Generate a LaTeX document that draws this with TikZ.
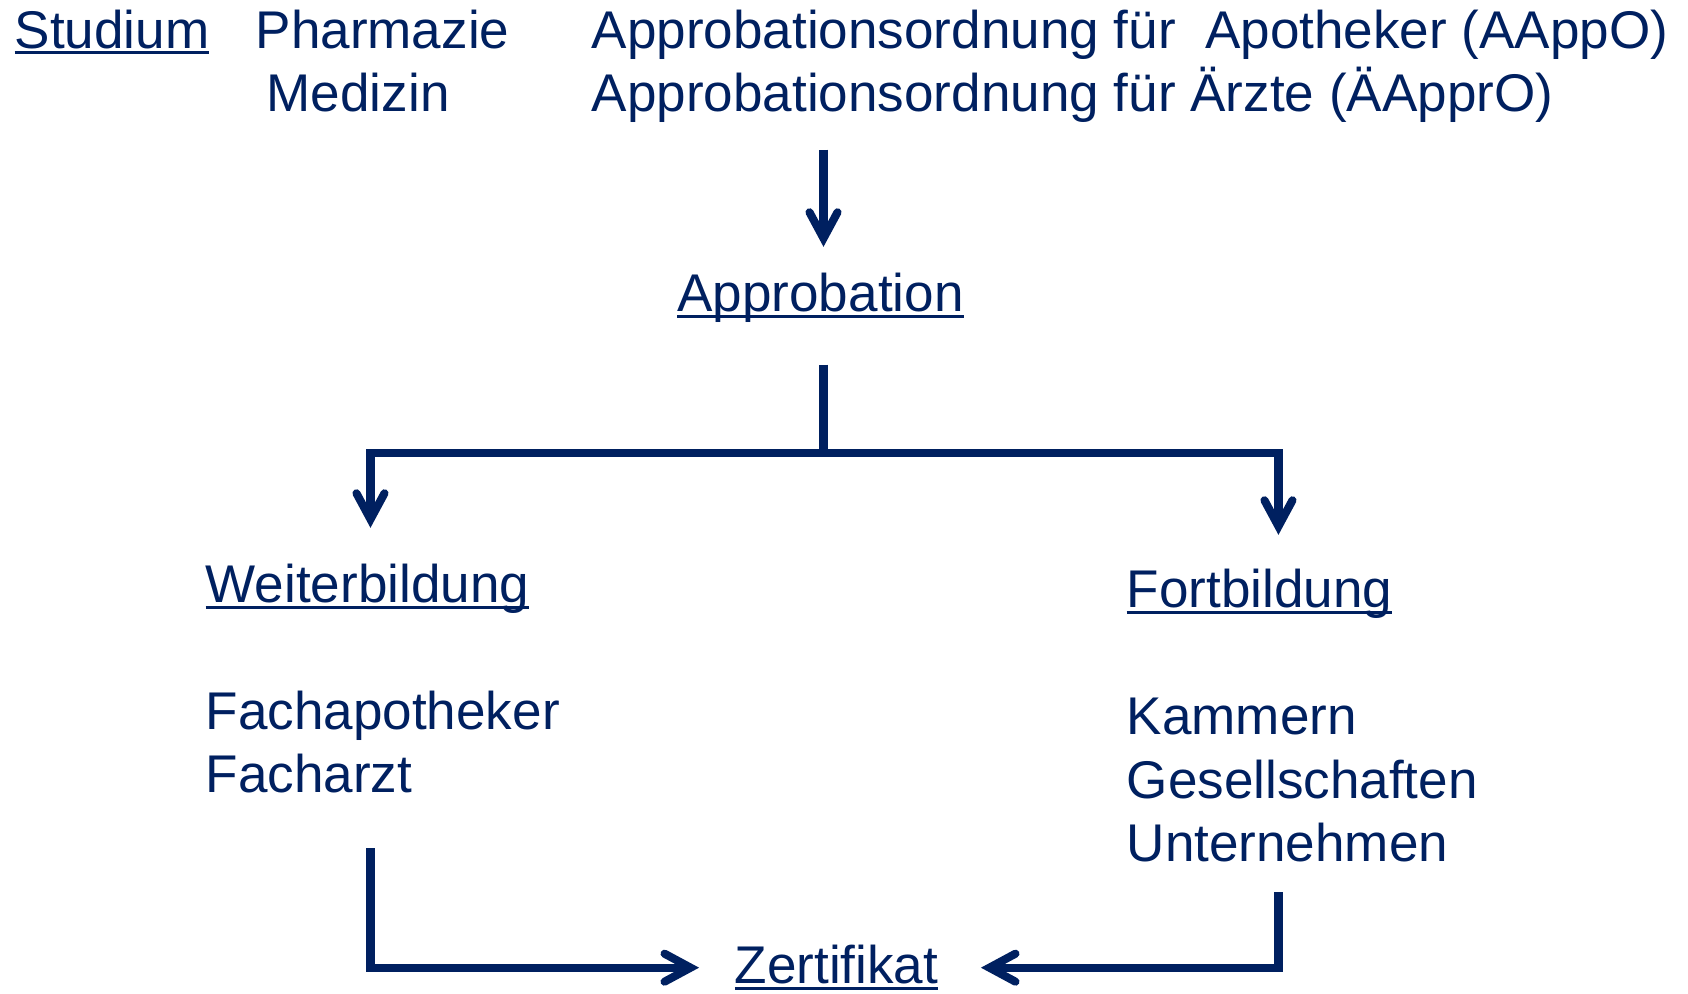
\documentclass[tikz,border=0pt]{standalone}
\usepackage{fontspec}
\setmainfont{Liberation Sans}
\usetikzlibrary{arrows.meta, calc}
\definecolor{slideblue}{RGB}{0,32,96}
\newcommand{\ulined}[1]{\setbox0=\hbox{#1}\rlap{\rule[-0.11em]{\wd0}{0.06em}}\box0}

\begin{document}
\begin{tikzpicture}
\tikzset{txt/.style={inner sep=0, anchor=base west, text=slideblue, font=\fontsize{15.1}{18}\selectfont},
  line/.style={draw=slideblue, line width=2.3pt},
  arr/.style={line, -{Straight Barb[length=2.6mm, width=2.8mm, line cap=round, line join=miter]}}}
\useasboundingbox (0,0) rectangle (16.88,-9.94);
% Studium
\node[txt] (studium) at (0.14,-0.484) {\ulined{Studium}};
\node[txt] (pharma) at (2.55,-0.484) {Pharmazie};
\node[txt] (medizin) at (2.66,-1.12) {Medizin};
\node[txt] (aappo) at (5.91,-0.484) {Approbationsordnung für~~Apotheker (AAppO)};
\node[txt] (aeappro) at (5.91,-1.12) {Approbationsordnung für Ärzte (ÄApprO)};
\node[txt, anchor=base] (appro) at (8.205,-3.12) {\ulined{Approbation}};
% Weiterbildung / Fortbildung
\node[txt] (weiter) at (2.05,-6.03) {\ulined{Weiterbildung}};
\node[txt] (fachapo) at (2.05,-7.30) {Fachapotheker};
\node[txt] (facharzt) at (2.05,-7.93) {Facharzt};
\node[txt] (fort) at (11.26,-6.08) {\ulined{Fortbildung}};
\node[txt] (kammern) at (11.26,-7.35) {Kammern};
\node[txt] (gesell) at (11.26,-7.99) {Gesellschaften};
\node[txt] (untern) at (11.26,-8.62) {Unternehmen};
\node[txt, anchor=base] (zert) at (8.365,-9.84) {\ulined{Zertifikat}};
% Pfeile
\draw[arr, shorten <=2.6mm, shorten >=2.6mm] ([xshift=0.3mm]appro.north |- aeappro.south) -- ([xshift=0.3mm]appro.north);
\draw[line, shorten <=4.1mm] ([xshift=0.3mm]appro.south) -- ++(0,-1.29) coordinate (split);
\draw[arr, shorten >=3.6mm] (split) -| ([xshift=0.3mm]weiter.north);
\draw[arr, shorten >=3.4mm] (split) -| ([xshift=1.9mm]fort.north);
\draw[arr, shorten <=5.4mm, shorten >=3.5mm] ([xshift=0.3mm]weiter.north |- facharzt.south) |- (zert.west);
\draw[arr, shorten <=2.9mm, shorten >=4.2mm] ([xshift=1.9mm]fort.north |- untern.south) |- (zert.east);
\end{tikzpicture}
\end{document}
